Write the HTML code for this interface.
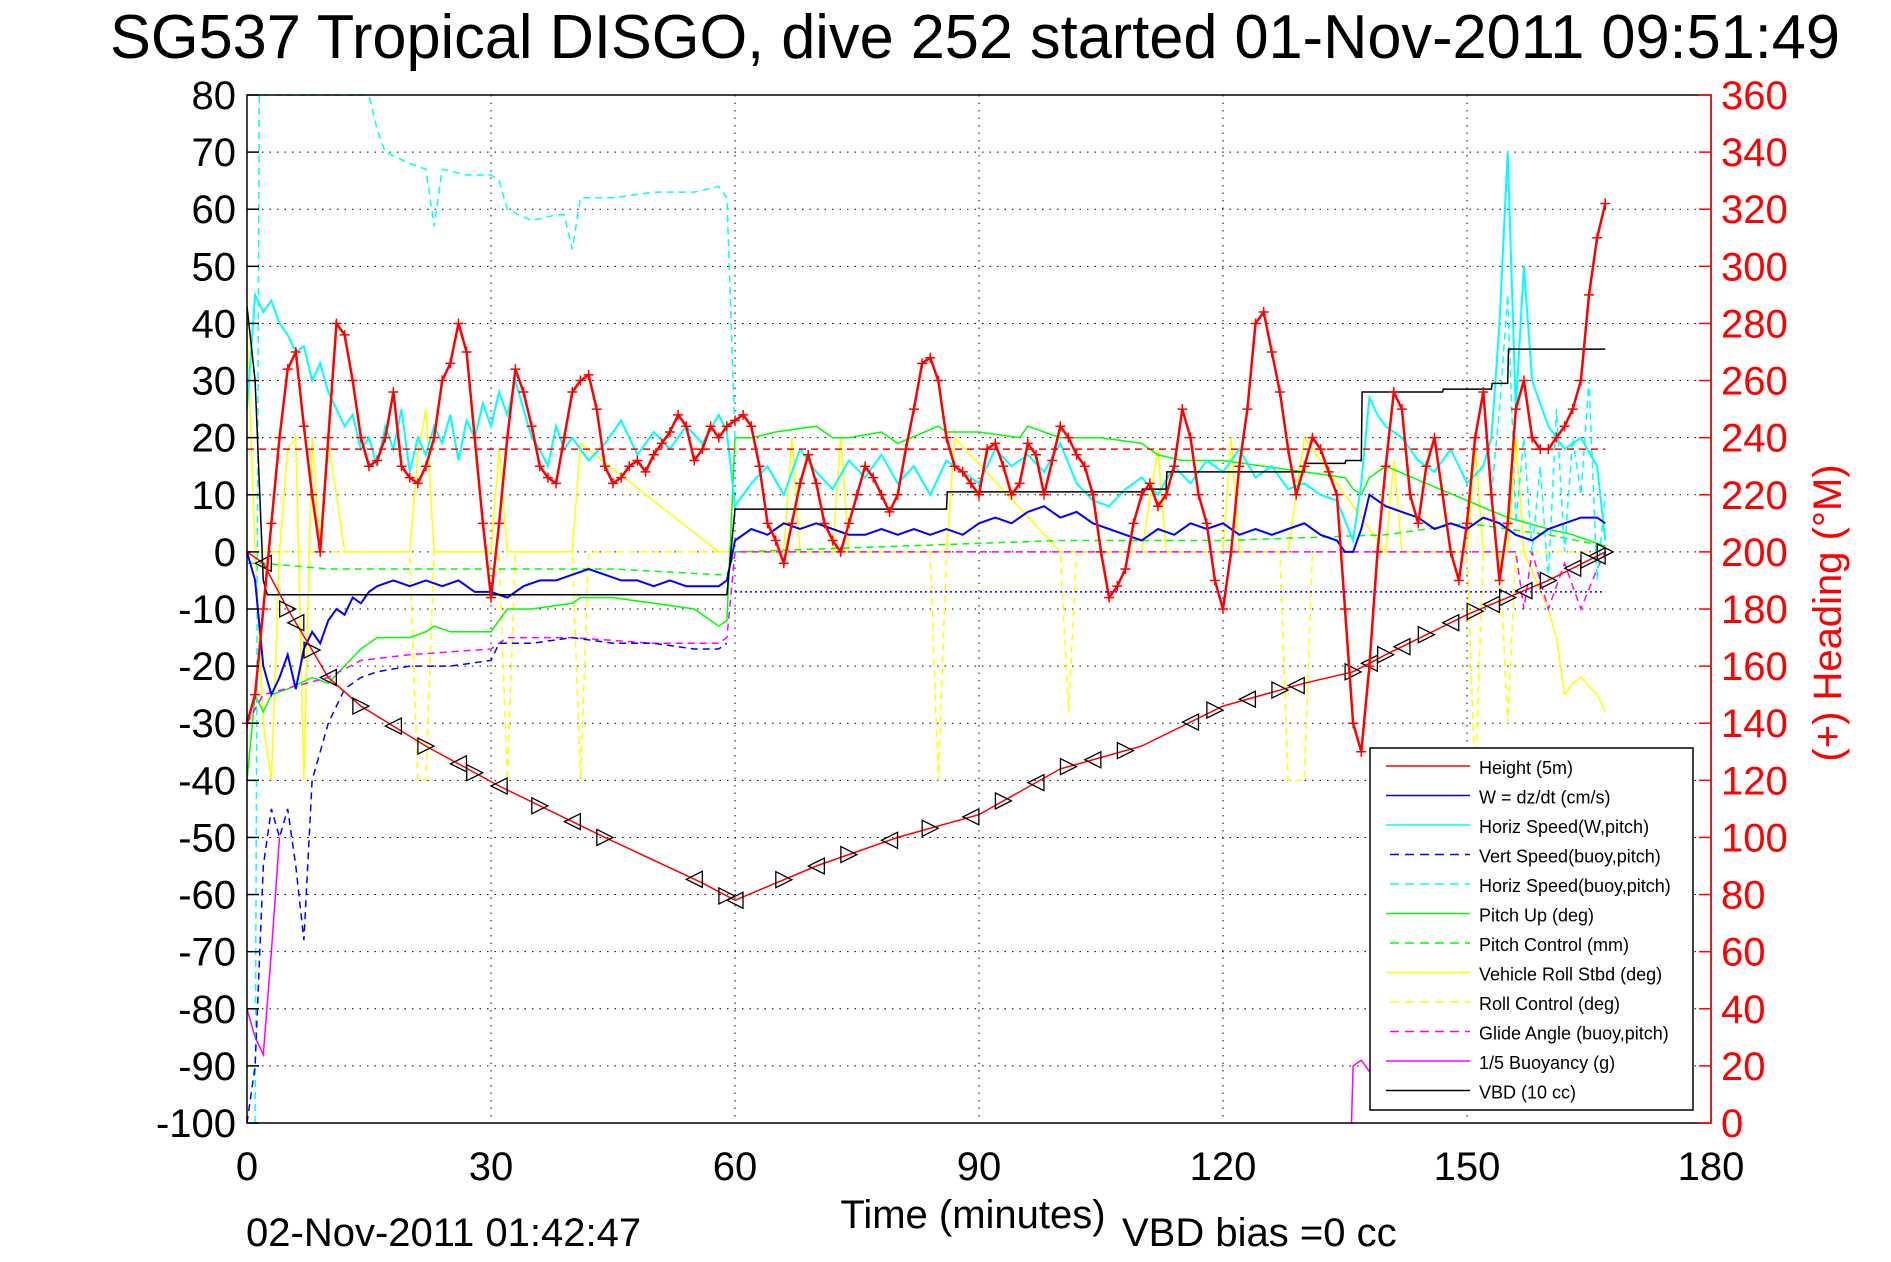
<!DOCTYPE html>
<html><head><meta charset="utf-8"><style>
html,body{margin:0;padding:0;background:#fff;}
svg{display:block;font-family:"Liberation Sans",sans-serif;}
</style></head><body>
<svg id="chart" width="1891" height="1262" viewBox="0 0 1891 1262" xmlns="http://www.w3.org/2000/svg">
<rect x="0" y="0" width="1891" height="1262" fill="#fff"/>
<text x="110" y="58" font-size="62" textLength="1730" lengthAdjust="spacingAndGlyphs">SG537 Tropical DISGO, dive 252 started 01-Nov-2011 09:51:49</text>
<g id="grid"></g>
<g id="series"></g>
<rect x="247" y="95" width="1464" height="1028" fill="none" stroke="#000" stroke-width="1.5"/>
<line x1="1711" y1="95" x2="1711" y2="1123" stroke="#f00" stroke-width="1.5"/>
<g id="ticks"></g>
<text x="973" y="1228" font-size="40" text-anchor="middle">Time (minutes)</text>
<text x="246" y="1246" font-size="40">02-Nov-2011 01:42:47</text>
<text x="1122" y="1246" font-size="40">VBD bias =0 cc</text>
<text transform="translate(1841,613) rotate(-90)" font-size="40" fill="#f00" text-anchor="middle">(+) Heading (°M)</text>
<g id="legend"></g>
</svg>
<script>
// ---- data ----
const xTicks=[0,30,60,90,120,150,180];
const yTicks=[80,70,60,50,40,30,20,10,0,-10,-20,-30,-40,-50,-60,-70,-80,-90,-100];
const hTicks=[360,340,320,300,280,260,240,220,200,180,160,140,120,100,80,60,40,20,0];
const heightT=[0,2,5,10,14,22,31,44,56,60,70,80,90,100,110,120,130,136,140,150,160,167];
const heightV=[0,-2,-10,-22,-27,-34,-41,-50,-58,-61,-55,-50,-46,-38,-34,-27,-23,-21,-18,-11,-5,0];
const markerT=[2,5,6,8,10,14,18,22,26,28,31,36,40,44,55,59,60,66,70,74,79,84,89,93,97,101,104,108,116,119,123,127,129,136,138,140,142,145,148,151,153,155,157,160,163,165,166,167];
const wT=[0,1,2,3,4,5,6,7,8,9,10,11,12,13,14,15,16,18,20,22,24,26,28,30,32,34,36,38,40,42,44,46,48,50,52,54,56,58,59,60,62,64,66,68,70,72,74,76,78,80,82,84,86,88,90,92,94,96,98,100,102,104,106,108,110,112,114,116,118,120,122,124,126,128,130,132,134,135,136,137,138,140,142,144,146,148,150,152,154,156,158,160,162,164,166,167];
const wV=[0,-5,-20,-25,-22,-18,-24,-17,-14,-16,-12,-10,-11,-8,-9,-7,-6,-5,-6,-5,-6,-5,-7,-7,-8,-6,-5,-5,-4,-3,-4,-5,-5,-6,-5,-6,-6,-6,-5,2,4,3,5,4,5,4,3,3,4,3,4,3,4,3,5,6,5,7,8,6,7,5,4,3,2,4,3,5,4,5,3,4,3,4,5,3,2,0,0,4,10,8,7,6,4,5,4,6,5,3,2,4,5,6,6,5];
const hsT=[0,1,2,3,4,5,6,7,8,9,10,11,12,13,14,15,16,17,18,19,20,21,22,23,24,25,26,27,28,29,30,31,32,33,34,35,36,37,38,39,40,42,44,46,48,50,52,54,56,58,59,60,62,64,66,68,70,72,74,76,78,80,82,84,86,88,90,92,94,96,98,100,102,104,106,108,110,112,114,116,118,120,122,124,126,128,130,132,134,136,137,138,139,140,142,144,146,148,150,152,153,154,155,156,157,158,160,162,164,166,167];
const hsV=[25,45,42,44,40,38,35,36,30,33,28,25,22,24,18,20,15,22,18,25,14,20,17,22,19,24,16,23,20,26,22,28,24,30,25,20,18,15,22,18,20,16,19,23,17,21,18,22,19,24,21,8,12,15,10,18,14,11,16,13,17,12,15,10,16,14,12,18,15,17,14,19,12,9,8,11,13,10,15,12,16,14,18,13,15,11,12,10,9,2,12,27,24,22,20,16,14,18,12,15,20,40,70,25,50,30,22,18,20,15,2];
const vbT=[0,1,2,3,4,5,6,7,8,9,10,12,14,16,20,25,30,31,35,40,45,50,55,58,59];
const vbV=[-100,-90,-55,-45,-50,-45,-55,-68,-40,-35,-30,-24,-22,-21,-20,-20,-19,-16,-16,-15,-16,-16,-17,-17,-16];
const hbT=[1,1.5,2,2.5,14,15,16,17,20,22,23,24,27,30,31,32,35,38,39,40,41,45,50,55,58,59,60];
const hbV=[-100,80,80,80,80,80,74,70,68,67,57,67,66,66,65,60,58,59,59,53,62,62,63,63,64,62,20];
const hbEndT=[153,154,155,156,157,158,159,160,161,162,163,164,165,166,167];
const hbEndV=[10,25,45,5,20,0,15,-5,25,0,20,10,30,-5,10];
const puT=[0,1,2,3,5,8,10,12,14,16,20,22,23,25,30,31,32,33,35,40,41,45,50,55,58,59,60,62,65,70,72,74,78,80,85,86,90,95,96,100,105,110,112,115,120,125,130,135,136,137,138,140,145,150,155,160,163,165,167];
const puV=[-40,-25,-28,-25,-24,-22,-23,-20,-17,-15,-15,-14,-13,-14,-14,-12,-10,-10,-10,-9,-8,-8,-9,-10,-13,-12,20,20,21,22,20,20,21,19,22,21,21,20,22,20,20,19,17,16,16,15,14,13,11,10,13,15,12,9,6,4,3,2,1];
const pcT=[0,2,10,30,45,58,59,60,80,100,120,140,150,160,167];
const pcV=[-2,-2,-3,-3,-3,-4,-4,0,1,2,2,3,5,3,1];
const rollT=[0,1,2,3,4,5,6,7,8,9,10,11,12,20,21,22,23,24,30,31,32,40,41,58,59,60,66,67,68,72,73,74,86,87,100,110,112,113,120,121,122,128,130,140,141,142,150,151,152,155,156,157,160,161,162,163,164,166,167];
const rollV=[40,0,-30,-40,0,18,20,-40,20,0,19,10,0,0,17,25,0,0,0,18,0,0,19,0,0,0,0,20,0,0,20,0,0,20,0,0,18,0,0,20,0,0,20,0,16,0,0,18,0,0,20,0,-10,-15,-25,-23,-22,-25,-28];
const rcT=[0,2,20,21,22,23,31,32,33,40,41,42,60,84,85,86,100,101,102,127,128,130,131,150,151,152,154,155,156,160,167];
const rcV=[0,0,0,-40,-40,0,0,-40,0,0,-40,0,0,0,-40,0,0,-28,0,0,-40,-40,0,0,-40,0,0,-30,0,0,0];
const gaT=[0,2,10,14,20,30,32,40,50,58,59,60,100,150,156,157,158,160,162,164,166,167];
const gaV=[-30,-25,-22,-19,-18,-17,-15,-15,-16,-16,-15,0,0,0,0,-10,0,-10,-2,-10,-3,0];
const buT=[0,1,2,3,4];
const buV=[-80,-85,-88,-70,-50];
const buEndT=[135.8,136,137,138];
const buEndV=[-100,-90,-89,-91];
const vbdT=[0,1,2,2.5,59,59.5,60,86,86.1,110,110.1,113,113.1,130,130.1,135,135.1,137,137.1,147,147.1,153,153.1,155,155.1,167];
const vbdV=[43,30,-5,-7.5,-7.5,0,7.5,7.5,10.5,10.5,11,11,14,14,15.5,15.5,16,16,28,28,28.5,28.5,29.5,29.5,35.5,35.5];
const headT=[0,1,2,3,4,5,6,7,8,9,10,11,12,13,14,15,16,17,18,19,20,21,22,23,24,25,26,27,28,29,30,31,32,33,34,35,36,37,38,39,40,41,42,43,44,45,46,47,48,49,50,51,52,53,54,55,56,57,58,59,60,61,62,63,64,65,66,67,68,69,70,71,72,73,74,75,76,77,78,79,80,81,82,83,84,85,86,87,88,89,90,91,92,93,94,95,96,97,98,99,100,101,102,103,104,105,106,107,108,109,110,111,112,113,114,115,116,117,118,119,120,121,122,123,124,125,126,127,128,129,130,131,132,133,134,135,136,137,138,139,140,141,142,143,144,145,146,147,148,149,150,151,152,153,154,155,156,157,158,159,160,161,162,163,164,165,166,167];
const headV=[140,150,180,210,240,264,270,244,220,200,240,280,276,260,240,230,232,240,256,230,226,224,230,240,260,266,280,270,240,210,184,210,240,264,256,244,230,226,224,240,256,260,262,250,230,224,226,230,232,228,234,238,242,248,244,232,236,244,240,244,246,248,244,230,210,204,196,210,224,234,224,210,204,200,210,220,230,226,220,214,220,236,250,266,268,260,240,230,228,224,220,236,238,230,220,224,238,234,220,232,244,240,234,230,220,200,184,188,194,210,220,224,216,220,230,250,240,220,210,190,180,200,230,250,280,284,270,256,236,220,230,240,236,228,220,180,140,130,160,200,230,256,250,220,210,230,240,220,200,190,210,240,256,220,190,210,250,260,240,236,236,240,244,250,260,290,310,322];
const dashRedV=18;
const dotBlueV=-7;
const legendNames=["Height (5m)","W = dz/dt (cm/s)","Horiz Speed(W,pitch)","Vert Speed(buoy,pitch)","Horiz Speed(buoy,pitch)","Pitch Up (deg)","Pitch Control (mm)","Vehicle Roll Stbd (deg)","Roll Control (deg)","Glide Angle (buoy,pitch)","1/5 Buoyancy (g)","VBD (10 cc)"];
const legendColors=["#f00","#00f","#0ff","#00f","#0ff","#0f0","#0f0","#ff0","#ff0","#f0f","#f0f","#000"];
const legendDash=[0,0,0,1,1,0,1,0,1,1,0,0];

// ---- axes ----
const L=247,R=1711,T=95,B=1123;
const sx=t=>L+t*(R-L)/180;
const sy=v=>T+(80-v)*(B-T)/180;
const sh=h=>T+(360-h)*(B-T)/360;
const NS="http://www.w3.org/2000/svg";
function mk(tag,parent,attrs){const e=document.createElementNS(NS,tag);for(const k in attrs)e.setAttribute(k,attrs[k]);parent.appendChild(e);return e;}
const grid=document.getElementById('grid'),ser=document.getElementById('series'),tk=document.getElementById('ticks'),lg=document.getElementById('legend');

xTicks.forEach(t=>{
  if(t>0&&t<180){const g=mk('line',grid,{x1:sx(t),y1:T,x2:sx(t),y2:B,stroke:'#000','stroke-width':1,'stroke-dasharray':'1.5,6'});
  
  }
  const l=mk('text',tk,{x:sx(t),y:1180,'font-size':40,'text-anchor':'middle'});l.textContent=t;
  
  
});
yTicks.forEach(v=>{
  if(v<80&&v>-100){const g=mk('line',grid,{x1:L,y1:sy(v),x2:R,y2:sy(v),stroke:'#000','stroke-width':1,'stroke-dasharray':'1.5,6'});
  
  }
  mk('line',tk,{x1:L,y1:sy(v),x2:L+12,y2:sy(v),stroke:'#000','stroke-width':1.5});
  const l=mk('text',tk,{x:236,y:sy(v)+14,'font-size':40,'text-anchor':'end'});l.textContent=v;
  
  
});
hTicks.forEach(h=>{
  mk('line',tk,{x1:R-12,y1:sh(h),x2:R,y2:sh(h),stroke:'#f00','stroke-width':1.5});
  const l=mk('text',tk,{x:1721,y:sh(h)+14,'font-size':40,fill:'#f00'});l.textContent=h;
  
  
});

function line(ts,vs,color,dash,name,w){
  const pts=ts.map((t,i)=>sx(t).toFixed(1)+','+sy(Math.max(-100,Math.min(80,vs[i]))).toFixed(1)).join(' ');
  const p=mk('polyline',ser,{points:pts,fill:'none',stroke:color,'stroke-width':w||1.5});
  if(dash)p.setAttribute('stroke-dasharray','7,5');
  
  
}
line(rollT,rollV,'#ff0',0,'vehicle-roll-line');
line(rcT,rcV,'#ff0',1,'roll-control-line');
line(pcT,pcV,'#0f0',1,'pitch-control-line');
line(puT,puV,'#0f0',0,'pitch-up-line');
line(gaT,gaV,'#f0f',1,'glide-angle-line');
line(buT,buV,'#f0f',0,'buoyancy-line');
line(buEndT,buEndV,'#f0f',0,'buoyancy-line-end');
line(hbT,hbV,'#0ff',1,'horiz-speed-buoy-line');
line(hbEndT,hbEndV,'#0ff',1,'horiz-speed-buoy-line-end');
line(hsT,hsV,'#0ff',0,'horiz-speed-line',2);
line(vbT,vbV,'#00f',1,'vert-speed-buoy-line');
line(wT,wV,'#00f',0,'w-line',2);
line(vbdT,vbdV,'#000',0,'vbd-line');
line([0,167],[dashRedV,dashRedV],'#f00',1,'heading-target-line');
{const p=mk('line',ser,{x1:sx(60),y1:sy(dotBlueV),x2:sx(167),y2:sy(dotBlueV),stroke:'#00f','stroke-width':1.5,'stroke-dasharray':'2,3'});

}
line(heightT,heightV,'#f00',0,'height-line');

// height markers
function heightAt(t){for(let i=1;i<heightT.length;i++){if(t<=heightT[i]){const f=(t-heightT[i-1])/(heightT[i]-heightT[i-1]);return heightV[i-1]+f*(heightV[i]-heightV[i-1]);}}return heightV[heightV.length-1];}
markerT.forEach((t,i)=>{
  const x=sx(t),y=sy(heightAt(t)),s=8,dir=(i%2?1:-1);
  const p=mk('polygon',ser,{points:`${x-s*dir},${y-s} ${x-s*dir},${y+s} ${x+s*dir},${y}`,fill:'none',stroke:'#000','stroke-width':1.3});
  
  
});

// heading
{const pts=headT.map((t,i)=>sx(t).toFixed(1)+','+sh(headV[i]).toFixed(1)).join(' ');
const p=mk('polyline',ser,{points:pts,fill:'none',stroke:'#f00','stroke-width':2.5});

}
headT.forEach((t,i)=>{
  const x=sx(t),y=sh(headV[i]);
  const p=mk('path',ser,{d:`M${x-5},${y}H${x+5}M${x},${y-5}V${y+5}`,stroke:'#f00','stroke-width':1.5});
  
  
});

// legend
{const r=mk('rect',lg,{x:1370,y:748,width:323,height:362,fill:'#fff',stroke:'#000','stroke-width':1.5});

}
legendNames.forEach((n,i)=>{
  const y=766+i*29.5;
  const l=mk('line',lg,{x1:legendDash[i]?1390:1386,y1:y,x2:1470,y2:y,stroke:legendColors[i],'stroke-width':1.5});
  if(legendDash[i])l.setAttribute('stroke-dasharray','9,6');
  
  
  const tx=mk('text',lg,{x:1479,y:y+8,'font-size':18});tx.textContent=n;
  
  
});
</script>
</body></html>
